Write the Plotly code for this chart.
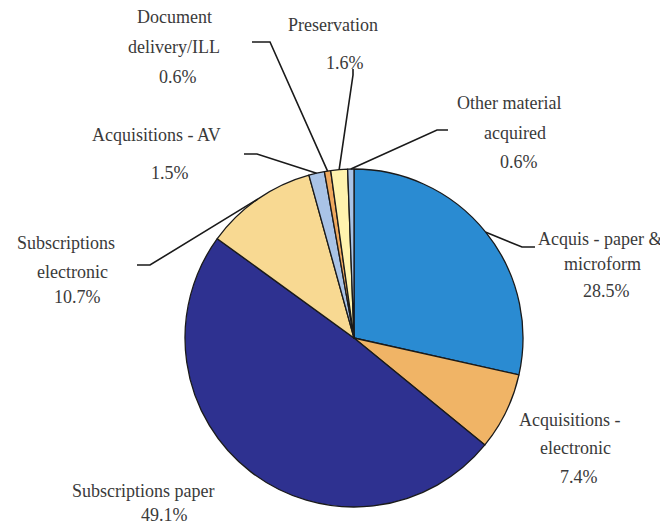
import math
import plotly.graph_objects as go

# ---- data ----
categories = [
    "Acquis - paper & microform",
    "Acquisitions - electronic",
    "Subscriptions paper",
    "Subscriptions electronic",
    "Acquisitions - AV",
    "Document delivery/ILL",
    "Preservation",
    "Other material acquired",
]
values = [28.5, 7.4, 49.1, 10.7, 1.5, 0.6, 1.6, 0.6]
label_words = [
    ["Acquis - paper &", "microform"],
    ["Acquisitions -", "electronic"],
    ["Subscriptions paper"],
    ["Subscriptions", "electronic"],
    ["Acquisitions - AV"],
    ["Document", "delivery/ILL"],
    ["Preservation"],
    ["Other material", "acquired"],
]
colors = ["#2A8BD2", "#F0B466", "#2E3190", "#F8D992", "#A9C3E6", "#EFA95E", "#FFF3AE", "#A9C3E6"]

# ---- layout (pixels in the photographed window) ----
W, H = 668, 525
OX, OY = 8, 8          # page body margin offset
CX, CY, R = 354, 338, 169

# per label: list of (center x, center y) for each text line (words..., percent)
label_pos = [
    [(600, 239), (602, 264), (606, 291)],
    [(570, 420), (575, 448), (579, 477)],
    [(143, 491), (164, 515)],
    [(66, 243), (72, 272), (77, 297)],
    [(156, 135), (170, 173)],
    [(174, 17), (174, 47), (178, 77)],
    [(333, 25), (345, 63)],
    [(509, 103), (515, 133), (519, 162)],
]
# leader elbow points (pixels), None = no leader
leader_pts = [
    [(522, 247), (535, 247)],
    None,
    None,
    [(150, 265), (137, 265)],
    [(257, 154), (244, 154)],
    [(270, 42), (252, 42)],
    [(353, 75), (353, 69)],
    [(437, 130), (448, 130)],
]

def px(x):
    return (x - OX) / W

def py(y):
    return 1 - (y - OY) / H

fig = go.Figure(go.Pie(
    labels=categories,
    values=values,
    sort=False,
    direction="clockwise",
    rotation=0,
    marker=dict(colors=colors, line=dict(color="#1a1a1a", width=1.3)),
    textinfo="none",
    hoverinfo="label+percent",
    showlegend=False,
    domain=dict(x=[px(CX - R), px(CX + R)], y=[py(CY + R), py(CY - R)]),
))

font = dict(family="Liberation Serif", size=18, color="#3a3a3a")
total = sum(values)
annotations = []
shapes = []
cum = 0.0
for i, v in enumerate(values):
    lines = label_words[i] + [f"{v / total * 100:.1f}%"]
    for txt, (x, y) in zip(lines, label_pos[i]):
        annotations.append(dict(
            x=px(x), y=py(y), xref="paper", yref="paper", text=txt,
            showarrow=False, xanchor="center", yanchor="middle", font=font,
        ))
    mid = (cum + v / 2) / total * 2 * math.pi
    cum += v
    if leader_pts[i] is not None:
        sx = CX + R * math.sin(mid)
        sy = CY - R * math.cos(mid)
        pts = [(sx, sy)] + leader_pts[i]
        path = "M " + " L ".join(f"{px(a):.5f},{py(b):.5f}" for a, b in pts)
        shapes.append(dict(type="path", xref="paper", yref="paper", path=path,
                           line=dict(color="#1a1a1a", width=1.6)))

fig.update_layout(
    width=W, height=H,
    margin=dict(l=0, r=0, t=0, b=0),
    paper_bgcolor="white",
    plot_bgcolor="white",
    font=font,
    annotations=annotations,
    shapes=shapes,
)

fig.write_html("out.html")
